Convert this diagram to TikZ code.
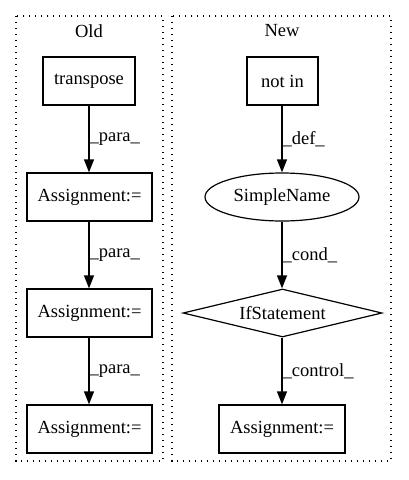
\documentclass[tikz,border=0pt]{standalone}
\usepackage{fontspec}
\setmainfont{Liberation Serif}
\usetikzlibrary{shapes.geometric,arrows.meta}
\begin{document}
\begin{tikzpicture}[x=1pt,y=-1pt,
  every node/.style={font=\fontsize{18.5pt}{21pt}\selectfont},
  cluster/.style={draw,line width=1.3pt,dash pattern=on 1.3pt off 4.7pt},
  boxnode/.style={draw,rectangle,line width=1.2pt,minimum height=48pt,inner sep=0pt},
  ellnode/.style={draw,ellipse,line width=1.2pt,minimum width=154pt,minimum height=48pt,inner sep=0pt},
  dianode/.style={draw,diamond,line width=1.2pt,aspect=4.15,minimum width=199pt,minimum height=48pt,inner sep=0pt},
  edge/.style={-{Triangle[length=13pt,width=10pt]},line width=1.2pt},
  elabel/.style={anchor=west,inner sep=0pt,font=\fontsize{18.5pt}{21pt}\selectfont}]
\useasboundingbox (0,0) rectangle (408,480);
\draw[cluster] (16,16) rectangle (163,461);
\draw[cluster] (172,16) rectangle (391,461);
\node (oldl) at (89,31) {Old};
\node (newl) at (282,31) {New};
\node[boxnode,minimum width=92pt] (tr) at (89,81) {transpose};
\node[boxnode,minimum width=125pt] (a1) at (89.5,197) {Assignment:=};
\node[boxnode,minimum width=125pt] (a2) at (89.5,313) {Assignment:=};
\node[boxnode,minimum width=125pt] (a3) at (89.5,429) {Assignment:=};
\node[boxnode,minimum width=71pt] (ni) at (282.5,81) {not in};
\node[ellnode] (sn) at (282,197) {SimpleName};
\node[dianode] (if) at (282.5,313) {IfStatement};
\node[boxnode,minimum width=126pt] (a4) at (282,429) {Assignment:=};
\draw[edge] (tr.south -| 89,0) -- (a1.north -| 89,0) node[midway,elabel] {\_para\_};
\draw[edge] (a1.south -| 89,0) -- (a2.north -| 89,0) node[midway,elabel] {\_para\_};
\draw[edge] (a2.south -| 89,0) -- (a3.north -| 89,0) node[midway,elabel] {\_para\_};
\draw[edge] (ni.south -| 282,0) -- (sn.north) node[midway,elabel] {\_def\_};
\draw[edge] (sn.south) -- (if.north -| 282,0) node[midway,elabel] {\_cond\_};
\draw[edge] (if.south -| 282,0) -- (a4.north) node[midway,elabel] {\_control\_};
\end{tikzpicture}
\end{document}
